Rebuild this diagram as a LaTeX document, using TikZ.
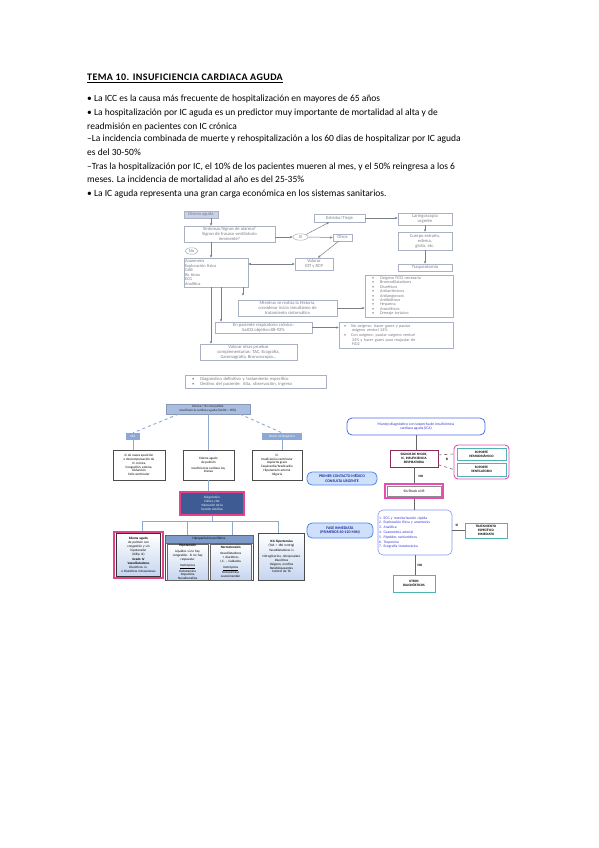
\documentclass[tikz,border=0pt]{standalone}
\usepackage{fontspec}
\setmainfont{Carlito}
\usetikzlibrary{arrows.meta,shadows,calc,shapes.geometric}
\definecolor{gline}{HTML}{A9B1C2}
\definecolor{gtext}{HTML}{7B7F88}
\definecolor{gfill}{HTML}{C9D2EA}
\definecolor{sbone}{HTML}{A9BEE1}
\definecolor{sbtwo}{HTML}{8CA8D6}
\definecolor{sbdark}{HTML}{3E5C93}
\definecolor{pinkb}{HTML}{E5428C}
\definecolor{busc}{HTML}{8FA8CF}
\definecolor{lbl}{HTML}{C5D5F0}
\definecolor{hdrc}{HTML}{7E9BC9}
\definecolor{bblue}{HTML}{4A6CF0}
\definecolor{btext}{HTML}{3838D0}
\definecolor{magb}{HTML}{8E2A5A}
\definecolor{pinkr}{HTML}{E84BB4}
\definecolor{tealc}{HTML}{4FB3B3}
\definecolor{pcfill}{HTML}{CFE0FA}
\definecolor{pcb}{HTML}{4C86F0}
\definecolor{pctext}{HTML}{1C2A9A}
\begin{document}
\begin{tikzpicture}[x=1pt,y=-1pt,
  hline/.style={anchor=base west, inner sep=0pt, font=\fontsize{9.5}{11}\selectfont},
  gb/.style={draw=gline, line width=0.5pt, fill=white, text=gtext, font=\fontsize{4.6}{5}\selectfont, align=center, inner sep=0.5pt},
  ga/.style={draw=gtext, line width=0.5pt, -{Latex[length=2.5pt,width=2.5pt]}},
  lb/.style={font=\fontsize{3.3}{3.8}\selectfont, align=center, inner sep=0.5pt},
  busl/.style={draw=busc, line width=0.9pt},
  rline/.style={draw=black!60, line width=0.8pt},
  tb/.style={draw=tealc, line width=0.8pt, fill=white, font=\fontsize{3.4}{3.9}\selectfont\bfseries, align=center, inner sep=0.5pt, drop shadow={shadow xshift=0.6pt, shadow yshift=-0.6pt, fill=black!35}},
  pc/.style={fill=pcfill, draw=pcb, line width=0.8pt, rounded corners=5pt, text=pctext, font=\fontsize{3.9}{4.5}\selectfont\bfseries, align=center, inner sep=0.5pt},
  lab/.style={font=\fontsize{3.4}{4}\selectfont\bfseries, inner sep=0pt}]
\useasboundingbox[fill=white] (0,0) rectangle (599,848);

% ---------------- header text ----------------
\node[hline, font=\fontsize{10}{11}\selectfont\bfseries\addfontfeature{LetterSpace=4}] (title) at (87,81) {\underline{TEMA 10. INSUFICIENCIA CARDIACA AGUDA}};
\node[hline] (l1) at (87,101.5) {• La ICC es la causa más frecuente de hospitalización en mayores de 65 años};
\node[hline] (l2) at (87,115.5) {• La hospitalización por IC aguda es un predictor muy importante de mortalidad al alta y de};
\node[hline] (l3) at (87,129) {readmisión en pacientes con IC crónica};
\node[hline] (l4) at (87,142) {–La incidencia combinada de muerte y rehospitalización a los 60 dias de hospitalizar por IC aguda};
\node[hline] (l5) at (87,155.5) {es del 30-50\%};
\node[hline] (l6) at (87,169) {–Tras la hospitalización por IC, el 10\% de los pacientes mueren al mes, y el 50\% reingresa a los 6};
\node[hline] (l7) at (87,182.5) {meses. La incidencia de mortalidad al año es del 25-35\%};
\node[hline] (l8) at (87,196) {• La IC aguda representa una gran carga económica en los sistemas sanitarios.};

% ---------------- upper (grey) flowchart ----------------
\node[gb, fill=gfill, minimum width=34, minimum height=7] (disnea) at (201,214.5) {Disnea aguda};
\node[gb, minimum width=91, minimum height=16] (sint) at (229.5,234) {Síntomas/Signos de alarma?\\Signos de fracaso ventilatorio\\inminente?};
\node[gb, ellipse, minimum width=15, minimum height=6.5, inner sep=0pt] (si) at (300.5,237) {Sí};
\node[gb, ellipse, minimum width=13, minimum height=6.5, inner sep=0pt] (no) at (191.5,251) {No};
\node[gb, minimum height=29, text width=62, align=left, inner sep=1pt, font=\fontsize{4.4}{4.5}\selectfont] (anam) at (216,272.5) {Anamnesis\\Exploración física\\GAB\\Rx tórax\\ECG\\Analítica};
\node[gb, minimum width=38, minimum height=12] (valorar) at (314,264) {Valorar\\IOT y RCP};
\node[gb, minimum width=51, minimum height=8] (estridor) at (339.5,218) {Estridor/Tiraje};
\node[gb, minimum width=19, minimum height=7] (otros) at (342.5,237.5) {Otros};
\node[gb, minimum width=54, minimum height=12] (laringo) at (425,219) {Laringoscopia\\urgente};
\node[gb, minimum width=54, minimum height=18] (cuerpo) at (425,241) {Cuerpo extraño,\\edema,\\glotis, etc.};
\node[gb, minimum width=54, minimum height=7] (traq) at (425,267.5) {Traqueotomía};
\node[gb, minimum width=99, minimum height=16] (mientras) at (287.5,308) {Mientras se realiza la Historia,\\considerar inicio simultáneo de\\tratamiento sintomático};
\node[gb, minimum height=42, text width=86, align=left, inner sep=1pt, font=\fontsize{4.2}{4.4}\selectfont] (lista1) at (409,296) {\hspace*{6pt}•\hspace{6pt}Oxígeno FiO2 necesaria\\\hspace*{6pt}•\hspace{6pt}Broncodilatadores\\\hspace*{6pt}•\hspace{6pt}Diuréticos\\\hspace*{6pt}•\hspace{6pt}Antiarrítmicos\\\hspace*{6pt}•\hspace{6pt}Antianginosos\\\hspace*{6pt}•\hspace{6pt}Antibióticos\\\hspace*{6pt}•\hspace{6pt}Heparina\\\hspace*{6pt}•\hspace{6pt}Ansiolíticos\\\hspace*{6pt}•\hspace{6pt}Drenaje torácico};
\node[gb, minimum width=97, minimum height=11] (enpac) at (263.5,327.5) {En paciente respiratorio crónico:\\SatO2 objetivo 88-92\%};
\node[gb, minimum height=26, text width=112, align=left, inner sep=1pt, font=\fontsize{4.2}{4.6}\selectfont] (lista2) at (396,335) {\hspace*{4pt}•\hspace{5pt}Sin oxígeno: hacer gases y pautar\\\hspace*{12pt}oxígeno venturi 24\%\\\hspace*{4pt}•\hspace{5pt}Con oxígeno: pautar oxígeno venturi\\\hspace*{12pt}24\% y hacer gases para reajustar de\\\hspace*{12pt}FiO2};
\node[gb, minimum width=97, minimum height=16] (votras) at (248.5,352) {Valorar otras pruebas\\complementarias: TAC, Ecografía,\\Gammagrafía, Broncoscopia...};
\node[gb, minimum height=13, text width=139, align=left, inner sep=1pt] (diag) at (255.5,381.5) {\hspace*{6pt}•\hspace{6pt}Diagnóstico definitivo y tratamiento específico\\\hspace*{6pt}•\hspace{6pt}Destino del paciente: Alta, observación, ingreso};

\coordinate (sp) at (211,0);
\coordinate (spb) at (221,0);
\coordinate (spc) at (243,0);
\draw[ga] (disnea.south -| sp) -- (sint.north -| sp);
\draw[ga] (sint.south -| sp) -- (anam.north -| sp);
\draw[ga] (anam.south -| sp) -- (votras.north -| sp);
\draw[ga] (anam.south -| spb) -- (enpac.north -| spb);
\draw[ga] (anam.south -| spc) -- ([yshift=4pt]mientras.north -| spc);
\draw[ga] (sint.east |- si.west) -- (si.west);
\draw[ga] (si.north east) -- ($(estridor.south west)!0.3!(estridor.south east)$);
\draw[ga] (si.east) -- (otros.west);
\draw[ga] ($(otros.south west)!0.3!(otros.south east)$) -- ($(valorar.north west)!0.6!(valorar.north east)$);
\draw[ga] (estridor.east) -- (laringo.west |- estridor.east);
\draw[ga] (laringo.south) -- (cuerpo.north);
\draw[ga] (cuerpo.south) -- (traq.north);
\draw[ga, {Latex[length=2.5pt,width=2.5pt]}-{Latex[length=2.5pt,width=2.5pt]}] (anam.east |- valorar.west) -- (valorar.west);
\draw[ga] (mientras.east) -- (mientras.east -| lista1.west);
\draw[ga] (enpac.east) -- (enpac.east -| lista2.west);

% ---------------- lower left (blue) chart ----------------
\node[lb, fill=sbone, draw=sbone!80!black, line width=0.3pt, minimum width=84, minimum height=10, text=black!85] (top) at (208,409) {Disnea + Rx compatible\\Insuficiencia cardiaca aguda (SatO2 < 90\%)};
\node[lb, fill=sbtwo, text=white, minimum width=14, minimum height=7] (ira) at (133,436.5) {IRA};
\node[lb, fill=sbtwo, text=white, minimum width=40, minimum height=7] (shock) at (282,436.5) {Shock cardiogénico};
\node[lb, draw=black!70, fill=white, line width=0.4pt, drop shadow={shadow xshift=0.8pt, shadow yshift=-0.8pt, fill=black!40}, minimum width=52, minimum height=30] (bx1) at (139,465) {IC de nueva aparición\\o descompensación de\\IC crónica\\Congestión, edema,\\disfunción\\Fallo ventricular};
\node[lb, draw=black!70, fill=white, line width=0.4pt, drop shadow={shadow xshift=0.8pt, shadow yshift=-0.8pt, fill=black!40}, minimum width=51, minimum height=30] (bx2) at (208.5,465) {Edema agudo\\de pulmón\\[2pt]Insuficiencia cardiaca izq.\\Disnea};
\node[lb, draw=black!70, fill=white, line width=0.4pt, drop shadow={shadow xshift=0.8pt, shadow yshift=-0.8pt, fill=black!40}, minimum width=50, minimum height=30] (bx3) at (277,465) {IC\\Insuficiencia ventricular\\izquierda grave\\Taquicardia/bradicardia\\Hipotensión arterial\\Oliguria};
\node[lb, fill=sbdark, draw=pinkb, line width=1.2pt, text=white, minimum width=64, minimum height=23] (pd) at (212,503.5) {Diagnóstico\\Clínico y Rx\\Valoración de la\\función sistólica};

\draw[busl, dashed] ($(top.south west)!0.15!(top.south east)$) -- (ira.north);
\draw[busl, dashed] ($(top.south west)!0.88!(top.south east)$) -- (shock.north);
\draw[busl] (ira.south) -- (ira.south |- bx1.north);
\draw[busl] (top.south) -- (top.south |- bx2.north);
\draw[busl] (shock.south) -- (shock.south |- bx3.north);
\draw[busl] (bx2.south) -- (bx2.south |- pd.north);

% bottom row
\node[draw=pinkb, line width=1.2pt, minimum width=49, minimum height=46, inner sep=0pt] (blo) at (138.5,555) {};
\node[lb, draw=black!80, line width=0.4pt, top color=white, bottom color=lbl, minimum height=43, text width=43, inner sep=0.5pt] (bli) at (blo.center) {\textbf{Edema agudo}\\de pulmón con\\congestión y sin\\hipotensión\\(Killip III)\\[2pt]\textbf{Grado IV}\\\textbf{Vasodilatadores}\\Diuréticos i.v.\\• Diuréticos intravenosos};
\node[draw=black!70, line width=0.4pt, fill=white, minimum width=88, minimum height=45, inner sep=0pt] (mg) at (209,557.5) {};
\node[lb, fill=hdrc, draw=black!60, line width=0.3pt, minimum width=88, minimum height=8, anchor=north] (mgh) at (mg.north) {Hipoperfusión periférica};
\node[lb, top color=white, bottom color=lbl, draw=black!60, line width=0.3pt, minimum height=36, text width=40, anchor=north west] (mga) at (167,544) {\textbf{Hipotensión}\\[2pt]Líquidos si no hay\\congestión. Si no hay\\respuesta:\\[2pt]\underline{Inotrópicos}\\Dobutamina\\Dopamina\\Noradrenalina};
\node[lb, top color=white, bottom color=lbl, draw=black!60, line width=0.3pt, minimum height=36, text width=40, anchor=north west] (mgb) at (210,544) {\textbf{Normotensión}\\[2pt]Vasodilatadores\\+ diuréticos\\I.C. – Cuidados\\[2pt]\underline{Inotrópicos}\\Dobutamina\\Levosimendán};
\node[lb, draw=black!70, line width=0.4pt, top color=white, bottom color=lbl, minimum height=47, text width=45] (brx) at (281.5,556.5) {\textbf{ICA hipertensiva}\\(TAS > 180 mmHg)\\[2pt]Vasodilatadores iv\\[2pt]Nitroglicerina, nitroprusiato\\Diuréticos\\Oxígeno, morfina\\Betabloqueantes\\Control de TA};

\coordinate (busy) at (0,521);
\coordinate (da) at (142,0);
\coordinate (db) at (187,0);
\coordinate (dc) at (232,0);
\coordinate (dd) at (278,0);
\draw[busl] (pd.south) -- (pd.south |- busy);
\draw[busl] (da |- busy) -- (dd |- busy);
\draw[busl] (da |- busy) -- (da |- blo.north);
\draw[busl] (db |- busy) -- (db |- mg.north);
\draw[busl] (dc |- busy) -- (dc |- mg.north);
\draw[busl] (dd |- busy) -- (dd |- brx.north);

% ---------------- lower right chart ----------------
\node[draw=bblue, line width=0.8pt, rounded corners=5pt, fill=white, text=btext, font=\fontsize{3.8}{4.4}\selectfont, align=center, minimum width=138, minimum height=17, inner sep=0.5pt] (manejo) at (416,426.5) {Manejo diagnóstico con sospecha de insuficiencia\\cardiaca aguda (ICA)};
\node[draw=magb, line width=0.9pt, fill=white, font=\fontsize{3.4}{3.9}\selectfont\bfseries, align=center, minimum width=48, minimum height=17, inner sep=0.5pt] (signos) at (414,458.5) {SIGNOS DE SHOCK,\\IC, INSUFICIENCIA\\RESPIRATORIA};
\node[draw=pinkr, line width=0.9pt, rounded corners=4pt, minimum width=55, minimum height=34, inner sep=0pt] (grp) at (481.5,462) {};
\node[tb, minimum width=49, minimum height=12] (sopa) at (481.5,454) {SOPORTE\\HEMODINÁMICO};
\node[tb, minimum width=49, minimum height=13] (sopb) at (481.5,469.5) {SOPORTE\\VENTILATORIO};
\draw[rline, dashed, line width=0.6pt] ($(signos.north east)!0.3!(signos.south east)$) -- ([xshift=-3pt]sopa.west);
\draw[rline, dashed, line width=0.6pt] ($(signos.north east)!0.85!(signos.south east)$) -- ([xshift=-3pt]sopb.west);
\node[lab] (lsi) at (447,459) {SI};

\node[draw=pinkr, line width=1.2pt, fill=white, minimum width=58, minimum height=14, inner sep=0pt] (sinshock) at (414,491) {};
\node[draw=black!45, line width=0.4pt, font=\fontsize{3.6}{4}\selectfont, minimum width=54, minimum height=10, inner sep=0.5pt] (sinshi) at (sinshock.center) {Sin Shock ni IR};
\node[lab] (lno) at (421,476) {NO};
\draw[rline] (manejo.south) -- (manejo.south |- signos.north);
\draw[rline] (signos.south) -- (sinshock.north);

\node[draw=bblue!70, line width=0.6pt, rounded corners=5pt, fill=white, text=btext, font=\fontsize{3.7}{4.8}\selectfont, align=left, minimum height=45, text width=72, inner sep=1pt] (lista) at (415,532.5) {1. ECG y monitorización rápida\\2. Exploración física y anamnesis\\3. Analítica\\4. Gasometría arterial\\5. Péptidos natriuréticos\\6. Troponina\\7. Ecografía transtorácica};
\draw[rline] (sinshock.south) -- (sinshock.south |- lista.north);
\node[tb, minimum width=42, minimum height=15] (trat) at (486,530.5) {TRATAMIENTO\\ESPECÍFICO\\INMEDIATO};
\draw[rline] (lista.east |- trat.west) -- (trat.west);
\node[lab] (lsib) at (457,525) {SI};
\node[tb, minimum width=42, minimum height=17] (otrosd) at (414,583.5) {OTROS\\DIAGNÓSTICOS};
\draw[rline] (lista.south) -- (lista.south |- otrosd.north);
\node[lab] (lnob) at (420,565) {NO};

\node[pc, minimum width=70, minimum height=13] (primer) at (342,478.5) {PRIMER CONTACTO MÉDICO\\CONSULTA URGENTE};
\node[pc, minimum width=66, minimum height=15] (fase) at (340,530.5) {FASE INMEDIATA\\(PRIMEROS 60-120 MIN)};
\end{tikzpicture}
\end{document}
